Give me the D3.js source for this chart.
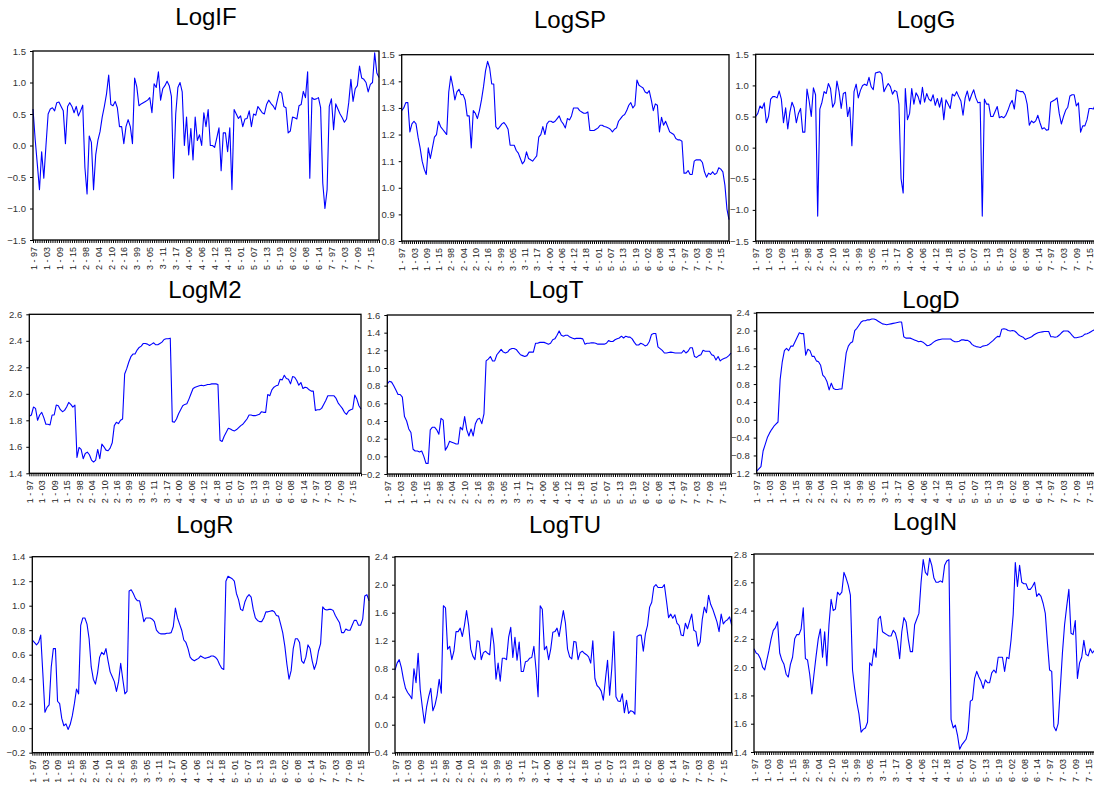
<!DOCTYPE html>
<html>
<head>
<meta charset="utf-8">
<script src="https://cdnjs.cloudflare.com/ajax/libs/d3/7.8.5/d3.min.js"></script>
<style>
  body { margin: 0; background: #fff; }
  svg { display: block; font-family: Arial, "Liberation Sans", sans-serif; }
</style>
</head>
<body>
<div id="graph"></div>
<script>
// panel data: 7 cross sections x 23 years (1997-2019)
const sections = [1, 2, 3, 4, 5, 6, 7];
const years = d3.range(1997, 2020);

const logIF = [
  0.58, 0.1, -0.3, -0.7, -0.1, -0.52, 0.0, 0.5, 0.58, 0.6, 0.55, 0.68, 0.69, 0.62, 0.55, 0.03, 0.62, 0.68, 0.62, 0.52, 0.62, 0.47, 0.55,
  0.64, -0.35, -0.77, 0.15, 0.05, -0.7, -0.15, 0.08, 0.22, 0.45, 0.62, 0.82, 1.12, 0.65, 0.63, 0.7, 0.6, 0.3, 0.3, 0.03, 0.3, 0.41, 0.3,
  0.03, 1.07, 0.93, 0.63, 0.66, 0.68, 0.7, 0.72, 0.76, 0.52, 0.98, 0.92, 1.17, 0.72, 0.9, 0.95, 1.02, 0.95, 0.78, -0.52, 0.5, 0.92, 1.0,
  0.85, 0.0, 0.45, -0.15, 0.27, -0.23, 0.45, 0.08, 0.17, 0.0, 0.52, 0.3, 0.57, 0.0, 0.0, -0.03, 0.12, 0.28, -0.4, 0.2, 0.2, -0.1, 0.28,
  -0.7, 0.57, 0.5, 0.43, 0.47, 0.3, 0.42, 0.43, 0.55, 0.3, 0.5, 0.48, 0.62, 0.57, 0.52, 0.5, 0.65, 0.72, 0.67, 0.63, 0.57, 0.72, 0.86,
  0.83, 0.62, 0.6, 0.2, 0.23, 0.45, 0.44, 0.42, 0.63, 0.65, 0.86, 0.76, 1.17, -0.52, 0.76, 0.73, 0.74, 0.76, 0.6, -0.6, -1.0, -0.7, 0.62,
  0.74, 0.25, 0.66, 0.58, 0.5, 0.44, 0.37, 0.42, 0.68, 1.05, 0.7, 0.9, 0.95, 1.26, 1.07, 1.05, 1.0, 0.85, 0.97, 1.0, 1.47, 1.15, 1.08
];
const logSP = [
  1.29, 1.3, 1.32, 1.32, 1.21, 1.24, 1.25, 1.24, 1.19, 1.15, 1.1, 1.07, 1.05, 1.15, 1.11, 1.15, 1.19, 1.2, 1.25, 1.23, 1.22, 1.21, 1.2,
  1.36, 1.42, 1.38, 1.33, 1.36, 1.37, 1.35, 1.35, 1.33, 1.27, 1.27, 1.15, 1.29, 1.28, 1.26, 1.29, 1.33, 1.38, 1.44, 1.475, 1.45, 1.39, 1.39,
  1.23, 1.22, 1.23, 1.24, 1.245, 1.235, 1.22, 1.16, 1.16, 1.16, 1.14, 1.13, 1.11, 1.09, 1.1, 1.135, 1.11, 1.105, 1.1, 1.11, 1.12, 1.19, 1.2,
  1.23, 1.2, 1.24, 1.25, 1.25, 1.245, 1.25, 1.26, 1.27, 1.25, 1.24, 1.225, 1.26, 1.255, 1.27, 1.3, 1.3, 1.3, 1.29, 1.285, 1.28, 1.28, 1.285,
  1.215, 1.215, 1.215, 1.22, 1.225, 1.235, 1.235, 1.23, 1.228, 1.225, 1.22, 1.21, 1.22, 1.225, 1.25, 1.26, 1.27, 1.275, 1.29, 1.31, 1.32, 1.3, 1.31,
  1.405, 1.385, 1.38, 1.375, 1.36, 1.355, 1.365, 1.33, 1.29, 1.315, 1.31, 1.21, 1.265, 1.235, 1.25, 1.23, 1.21, 1.205, 1.2, 1.185, 1.18, 1.18, 1.175,
  1.055, 1.055, 1.065, 1.05, 1.05, 1.1, 1.105, 1.105, 1.105, 1.095, 1.06, 1.04, 1.055, 1.05, 1.06, 1.05, 1.055, 1.075, 1.07, 1.06, 1.01, 0.92, 0.88
];
const logG = [
  0.5, 0.55, 0.67, 0.63, 0.72, 0.4, 0.5, 0.78, 0.82, 0.82, 0.8, 0.91, 0.78, 0.4, 0.64, 0.3, 0.57, 0.73, 0.64, 0.4, 0.55, 0.63, 0.25,
  0.25, 0.94, 0.75, 0.5, 0.96, 0.85, -1.1, 0.62, 0.73, 0.9, 0.87, 1.03, 0.95, 0.65, 0.72, 1.07, 0.9, 0.63, 0.87, 0.89, 0.5, 0.65, 0.03,
  0.9, 1.02, 0.8, 0.92, 1.0, 1.02, 1.0, 1.13, 0.98, 0.93, 1.2, 1.21, 1.22, 1.18, 0.9, 0.97, 1.03, 0.98, 0.86, 0.92, 0.9, 0.7, -0.5,
  -0.73, 0.95, 0.45, 0.55, 0.95, 0.7, 0.88, 0.82, 0.7, 0.97, 0.73, 0.87, 0.78, 0.75, 0.85, 0.68, 0.79, 0.65, 0.8, 0.45, 0.77, 0.7, 0.63,
  0.86, 0.83, 0.9, 0.82, 0.75, 0.52, 0.8, 0.91, 0.75, 0.85, 0.93, 0.8, 0.72, 0.73, -1.1, 0.78, 0.7, 0.7, 0.5, 0.5, 0.58, 0.66, 0.48,
  0.5, 0.48, 0.52, 0.6, 0.7, 0.76, 0.62, 0.93, 0.91, 0.9, 0.9, 0.85, 0.7, 0.36, 0.43, 0.4, 0.43, 0.52, 0.4, 0.3, 0.32, 0.28, 0.29,
  0.73, 0.75, 0.77, 0.8, 0.55, 0.38, 0.5, 0.6, 0.65, 0.83, 0.85, 0.85, 0.67, 0.72, 0.25, 0.35, 0.35, 0.45, 0.63, 0.63, 0.62, 0.7, 0.68
];
const logM2 = [
  1.83, 1.84, 1.9, 1.89, 1.8, 1.84, 1.86, 1.82, 1.77, 1.77, 1.765, 1.84, 1.84, 1.915, 1.91, 1.88, 1.865, 1.875, 1.9, 1.935, 1.92, 1.9, 1.915,
  1.52, 1.595, 1.58, 1.51, 1.55, 1.56, 1.54, 1.5, 1.485, 1.5, 1.58, 1.51, 1.62, 1.6, 1.575, 1.57, 1.59, 1.63, 1.76, 1.785, 1.775, 1.8, 1.81,
  2.15, 2.19, 2.24, 2.28, 2.3, 2.3, 2.33, 2.35, 2.36, 2.38, 2.38, 2.375, 2.365, 2.375, 2.385, 2.37, 2.37, 2.38, 2.39, 2.41, 2.415, 2.415, 2.42,
  1.79, 1.785, 1.81, 1.85, 1.88, 1.91, 1.92, 1.925, 1.96, 2.0, 2.04, 2.05, 2.055, 2.06, 2.065, 2.06, 2.065, 2.07, 2.07, 2.075, 2.075, 2.075, 2.07,
  1.65, 1.64, 1.68, 1.71, 1.74, 1.735, 1.725, 1.72, 1.73, 1.745, 1.76, 1.77, 1.79, 1.81, 1.84, 1.84, 1.835, 1.835, 1.84, 1.845, 1.865, 1.86, 1.86,
  1.995, 1.985, 2.03, 2.05, 2.06, 2.065, 2.11, 2.105, 2.14, 2.115, 2.11, 2.075, 2.13, 2.125, 2.1, 2.065, 2.085, 2.04, 2.05, 2.045, 2.03, 2.02, 2.02,
  1.875, 1.88, 1.88, 1.89, 1.92, 1.95, 1.985, 1.985, 1.985, 1.985, 1.965, 1.93, 1.91, 1.89, 1.86, 1.845, 1.87, 1.88, 1.885, 1.99, 1.96, 1.91, 1.885
];
const logT = [
  0.82, 0.85, 0.84, 0.8, 0.75, 0.7, 0.7, 0.67, 0.45, 0.4, 0.31, 0.27, 0.08, 0.06, 0.06, 0.05, 0.06, 0.0, -0.08, -0.08, 0.3, 0.33, 0.33,
  0.3, 0.25, 0.43, 0.41, 0.07, 0.11, 0.17, 0.16, 0.15, 0.14, 0.14, 0.33, 0.3, 0.45, 0.3, 0.23, 0.31, 0.23, 0.37, 0.42, 0.43, 0.37, 0.48,
  1.08, 1.1, 1.13, 1.08, 1.08, 1.15, 1.18, 1.21, 1.18, 1.17, 1.18, 1.21, 1.22, 1.22, 1.21, 1.18, 1.15, 1.14, 1.13, 1.14, 1.18, 1.18, 1.18,
  1.28, 1.28, 1.29, 1.29, 1.29, 1.28, 1.27, 1.28, 1.32, 1.33, 1.37, 1.42, 1.37, 1.36, 1.37, 1.37, 1.35, 1.34, 1.33, 1.335, 1.335, 1.335, 1.33,
  1.27, 1.28, 1.28, 1.285, 1.285, 1.28, 1.27, 1.27, 1.27, 1.27, 1.28, 1.31, 1.3, 1.3, 1.32, 1.33, 1.34, 1.36, 1.34, 1.36, 1.35, 1.35, 1.33,
  1.29, 1.26, 1.26, 1.28, 1.27, 1.25, 1.26, 1.3, 1.38, 1.39, 1.39, 1.24, 1.22, 1.2, 1.17, 1.17, 1.175, 1.18, 1.175, 1.17, 1.17, 1.17, 1.17,
  1.2, 1.17, 1.19, 1.23, 1.23, 1.13, 1.12, 1.14, 1.15, 1.2, 1.19, 1.19, 1.19, 1.15, 1.14, 1.09, 1.13, 1.08, 1.1, 1.11, 1.12, 1.14, 1.17
];
const logD = [
  -1.15, -1.1, -1.05, -0.7, -0.55, -0.4, -0.3, -0.22, -0.15, -0.1, -0.05, 0.9, 1.3, 1.55, 1.6, 1.55, 1.65, 1.65, 1.75, 1.85, 1.95, 1.93, 1.93,
  1.45, 1.58, 1.55, 1.42, 1.42, 1.32, 1.3, 1.22, 1.0, 0.95, 0.85, 0.67, 0.82, 0.7, 0.68, 0.68, 0.69, 0.69, 1.1, 1.5, 1.65, 1.72, 1.75,
  2.0, 2.05, 2.12, 2.19, 2.22, 2.22, 2.24, 2.24, 2.26, 2.26, 2.24, 2.21, 2.18, 2.15, 2.14, 2.13, 2.14, 2.15, 2.16, 2.17, 2.18, 2.19, 2.19,
  1.86, 1.83, 1.83, 1.83, 1.81, 1.79, 1.77, 1.75, 1.76, 1.74, 1.7, 1.66, 1.67, 1.7, 1.74, 1.77, 1.79, 1.8, 1.81, 1.81, 1.81, 1.81, 1.81,
  1.77, 1.75, 1.75, 1.76, 1.79, 1.79, 1.78, 1.78, 1.75, 1.69, 1.66, 1.64, 1.63, 1.62, 1.65, 1.66, 1.67, 1.7, 1.74, 1.78, 1.83, 1.87, 1.86,
  2.03, 2.04, 2.03, 2.0, 1.99, 2.0, 1.99, 1.95, 1.9, 1.87, 1.85, 1.8, 1.82, 1.84, 1.86, 1.9, 1.93, 1.95, 1.96, 1.97, 1.98, 1.98, 1.98,
  1.86, 1.86, 1.85, 1.86, 1.9, 1.95, 1.99, 1.99, 1.99, 1.95, 1.89, 1.84, 1.84, 1.85, 1.86, 1.88, 1.92, 1.93, 1.95, 1.98, 2.01, 1.99, 1.98
];
const logR = [
  0.72, 0.7, 0.68, 0.7, 0.76, 0.45, 0.13, 0.17, 0.19, 0.5, 0.65, 0.65, 0.22, 0.2, 0.08, 0.02, 0.035, -0.01, 0.03, 0.1, 0.2, 0.32, 0.28,
  0.84, 0.9, 0.9, 0.85, 0.73, 0.5, 0.4, 0.36, 0.45, 0.58, 0.62, 0.6, 0.65, 0.55, 0.46, 0.42, 0.38, 0.3, 0.38, 0.53, 0.4, 0.28, 0.3,
  1.12, 1.13, 1.1, 1.06, 1.04, 1.04, 0.96, 0.87, 0.9, 0.9, 0.9, 0.89, 0.87, 0.8, 0.78, 0.77, 0.77, 0.77, 0.775, 0.775, 0.78, 0.83, 0.98,
  0.9, 0.85, 0.8, 0.72, 0.7, 0.65, 0.58, 0.56, 0.55, 0.56, 0.57, 0.59, 0.58, 0.57, 0.575, 0.58, 0.59, 0.59, 0.58, 0.56, 0.52, 0.49, 0.48,
  1.2, 1.24, 1.23, 1.22, 1.2, 1.1, 1.05, 0.97, 0.96, 1.03, 1.07, 1.09, 1.07, 0.97, 0.9, 0.88, 0.87, 0.87, 0.9, 0.95, 0.95, 0.955, 0.96,
  0.95, 0.92, 0.915, 0.85, 0.78, 0.67, 0.52, 0.4, 0.47, 0.65, 0.73, 0.73, 0.7, 0.55, 0.53, 0.58, 0.68, 0.65, 0.55, 0.48, 0.53, 0.63, 0.69,
  0.99, 0.97, 0.965, 0.97, 0.97, 0.96, 0.92, 0.89, 0.86, 0.78, 0.78, 0.81, 0.8, 0.8, 0.84, 0.88, 0.88, 0.84, 0.84, 0.89, 1.08, 1.09, 1.04
];
const logTU = [
  0.78, 0.88, 0.93, 0.82, 0.65, 0.52, 0.46, 0.42, 0.37, 0.8, 0.6, 1.02, 0.5, 0.25, 0.02, 0.25, 0.4, 0.52, 0.2, 0.28, 0.42, 0.65, 0.45,
  1.7, 1.67, 1.08, 1.12, 0.93, 1.05, 1.33, 1.33, 1.38, 1.26, 1.42, 1.63, 1.42, 1.08, 0.98, 0.93, 1.2, 1.19, 0.93, 1.03, 1.05, 1.02, 1.0,
  1.38, 1.15, 0.65, 0.88, 0.62, 0.95, 0.95, 0.93, 1.25, 1.39, 0.96, 1.25, 0.92, 1.18, 0.76, 0.76, 0.9, 0.91, 0.95, 0.96, 1.12, 0.8, 0.4,
  1.7, 1.65, 1.07, 1.12, 0.93, 1.08, 1.32, 1.33, 1.38, 1.26, 1.45, 1.63, 1.45, 1.08, 0.97, 0.94, 1.19, 1.18, 0.93, 1.03, 1.05, 1.02, 1.0,
  0.97, 0.88, 1.2, 0.66, 0.56, 0.53, 0.48, 0.35, 0.65, 0.92, 0.42, 0.8, 1.33, 0.4, 0.34, 0.33, 0.44, 0.17, 0.35, 0.16, 0.2, 0.19, 0.15,
  1.26, 1.28, 1.28, 1.05, 1.3, 1.42, 1.68, 1.75, 1.97, 2.0, 1.96, 1.96, 1.96, 2.0, 1.77, 1.53, 1.58, 1.52, 1.57, 1.45, 1.42, 1.28, 1.27,
  1.45, 1.37, 1.48, 1.58, 1.35, 1.33, 1.12, 1.18, 1.5, 1.68, 1.6, 1.85, 1.72, 1.65, 1.56, 1.47, 1.33, 1.58, 1.44, 1.48, 1.5, 1.54, 1.42
];
const logIN = [
  2.13, 2.1, 2.09, 2.06, 2.0, 1.98, 2.05, 2.12, 2.2, 2.26, 2.28, 2.32, 2.1, 2.05, 2.02, 1.95, 1.93, 2.02, 2.07, 2.2, 2.23, 2.23, 2.27,
  2.42, 2.06, 2.05, 1.95, 1.81, 1.95, 2.08, 2.2, 2.27, 2.07, 2.25, 2.01, 2.3, 2.48, 2.4, 2.41, 2.53, 2.51, 2.53, 2.67, 2.63, 2.58, 2.51,
  1.98, 1.85, 1.75, 1.67, 1.54, 1.56, 1.57, 1.61, 2.03, 2.01, 2.13, 2.07, 2.34, 2.36, 2.25, 2.24, 2.23, 2.22, 2.22, 2.26, 2.24, 2.18, 2.06,
  2.25, 2.35, 2.32, 2.2, 2.11, 2.11, 2.3, 2.34, 2.38, 2.6, 2.76, 2.67, 2.65, 2.77, 2.72, 2.63, 2.6, 2.6, 2.61, 2.6, 2.72, 2.75, 2.76,
  1.63, 1.57, 1.59, 1.52, 1.42, 1.45, 1.47, 1.49, 1.55, 1.76, 1.77, 1.92, 1.97, 1.93, 1.9, 1.85, 1.91, 1.89, 1.89, 1.96, 1.98, 1.96, 2.07,
  2.07, 2.07, 1.97, 2.07, 2.06, 2.19, 2.37, 2.74, 2.57, 2.72, 2.6, 2.59, 2.59, 2.55, 2.55, 2.57, 2.6, 2.5, 2.52, 2.5, 2.45, 2.38, 2.17,
  1.98, 1.97, 1.58, 1.55, 1.6, 1.85, 2.1, 2.3, 2.43, 2.55, 2.24, 2.23, 2.33, 1.92, 2.03, 2.07, 2.19, 2.09, 2.08, 2.13, 2.1, 2.12, 2.12
];

// observation labels "1 - 97" ... "7 - 19"
const obsLabels = [];
sections.forEach(s => years.forEach(y => obsLabels.push(s + " - " + String(y % 100).padStart(2, "0"))));

const width = 1094, height = 787;

const panels = [
  {title: "LogIF", values: logIF, x0: 33, x1: 379, y0: 51, y1: 240, dom: [-1.5, 1.5], step: 0.5, tx: 206, ty: 25},
  {title: "LogSP", values: logSP, x0: 401.7, x1: 729, y0: 54.7, y1: 241, dom: [0.8, 1.5], step: 0.1, tx: 570, ty: 28},
  {title: "LogG", values: logG, x0: 755.7, x1: 1097.7, y0: 54.3, y1: 241, dom: [-1.5, 1.5], step: 0.5, tx: 926, ty: 28},
  {title: "LogM2", values: logM2, x0: 29.3, x1: 361, y0: 314.3, y1: 473.3, dom: [1.4, 2.6], step: 0.2, tx: 205, ty: 298},
  {title: "LogT", values: logT, x0: 387.3, x1: 731, y0: 315, y1: 474, dom: [-0.2, 1.6], step: 0.2, tx: 556, ty: 298},
  {title: "LogD", values: logD, x0: 756.7, x1: 1097.7, y0: 312.7, y1: 473.3, dom: [-1.2, 2.4], step: 0.4, tx: 931, ty: 308},
  {title: "LogR", values: logR, x0: 32.3, x1: 369, y0: 556.7, y1: 752.7, dom: [-0.2, 1.4], step: 0.2, tx: 205, ty: 533},
  {title: "LogTU", values: logTU, x0: 395, x1: 731.7, y0: 556.7, y1: 752.7, dom: [-0.4, 2.4], step: 0.4, tx: 565, ty: 533},
  {title: "LogIN", values: logIN, x0: 754, x1: 1096.7, y0: 554, y1: 752, dom: [1.4, 2.8], step: 0.2, tx: 925, ty: 530}
];

let svg = d3.select("#graph").
append("svg").
attr("width", width).
attr("height", height);

svg.append("rect").attr("width", width).attr("height", height).attr("fill", "#fff");

panels.forEach(p => {
  const n = p.values.length;
  const xScale = d3.scaleLinear().domain([0, n - 1]).range([p.x0, p.x1]);
  const yScale = d3.scaleLinear().domain(p.dom).range([p.y1, p.y0]);
  const yTicks = d3.range(p.dom[0], p.dom[1] + p.step / 2, p.step).map(v => Math.round(v * 10) / 10);

  const g = svg.append("g");

  // x axis: a tick per observation, label every 6th
  const xAxis = d3.axisBottom(xScale).
  tickValues(d3.range(0, n)).
  tickSize(3).
  tickFormat(i => i % 6 === 0 ? obsLabels[i] : "");
  const gx = g.append("g").
  attr("transform", "translate(0," + p.y1 + ")").
  call(xAxis);
  gx.select(".domain").remove();
  gx.selectAll("line").attr("stroke", "#000").attr("stroke-width", 1);
  gx.selectAll("text").
  attr("transform", "rotate(-90)").
  attr("x", -7).
  attr("y", 0).
  attr("dy", "0.35em").
  style("text-anchor", "end").
  style("font-size", "9px").
  attr("fill", "#222");

  // y axis
  const yAxis = d3.axisLeft(yScale).
  tickValues(yTicks).
  tickSize(3).
  tickPadding(4).
  tickFormat(d3.format(".1f"));
  const gy = g.append("g").
  attr("transform", "translate(" + p.x0 + ",0)").
  call(yAxis);
  gy.select(".domain").remove();
  gy.selectAll("line").attr("stroke", "#000");
  gy.selectAll("text").style("font-size", "9.5px").attr("fill", "#333");

  // series line
  g.append("path").
  datum(p.values).
  attr("fill", "none").
  attr("stroke", "#0000ff").
  attr("stroke-width", 1.1).
  attr("stroke-linejoin", "round").
  attr("d", d3.line().x((d, i) => xScale(i)).y(d => yScale(d)));

  // frame
  g.append("rect").
  attr("x", p.x0).
  attr("y", p.y0).
  attr("width", p.x1 - p.x0).
  attr("height", p.y1 - p.y0).
  attr("fill", "none").
  attr("stroke", "#000").
  attr("stroke-width", 1.3);

  g.append("text").
  attr("x", p.tx).
  attr("y", p.ty).
  attr("text-anchor", "middle").
  style("font-size", "24px").
  attr("fill", "#000").
  text(p.title);
});
</script>
</body>
</html>
